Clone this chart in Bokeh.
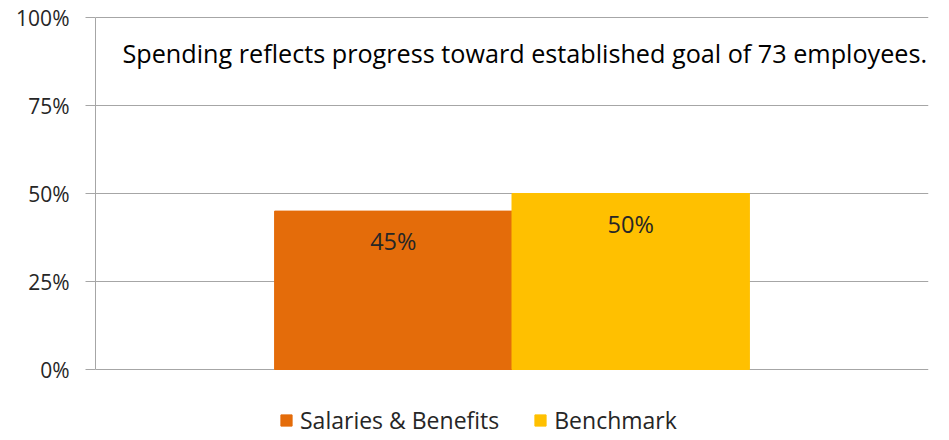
from bokeh.plotting import figure
from bokeh.models import (ColumnDataSource, FactorRange, Range1d, FixedTicker,
                          NumeralTickFormatter, LabelSet, Label, Legend, LegendItem)
from bokeh.core.properties import value
from bokeh.transform import dodge
from bokeh.embed import file_html
from bokeh.resources import INLINE

categories = ["Spending"]
series_names = ["Salaries & Benefits", "Benchmark"]
series_values = [0.45, 0.50]
series_labels = ["45%", "50%"]
series_colors = ["#E46C0A", "#FFC000"]
y_ticks = [0, 0.25, 0.5, 0.75, 1.0]
note = "Spending reflects progress toward established goal of 73 employees."

FONT = "Open Sans"
TXT = "#262626"
GRID = "#A6A6A6"

W, H = 941, 436
TOP, ZERO, PX = 16, 369, 352  # frame top, pixel row of 0%, pixels per 100%
p = figure(width=W, height=H, output_backend="svg", toolbar_location=None,
           x_range=FactorRange(factors=categories),
           y_range=Range1d(-(H - ZERO) / PX, (ZERO - TOP) / PX),
           min_border_left=95, min_border_right=W - 928, min_border_top=TOP,
           min_border_bottom=0)
p.outline_line_color = None
p.xaxis.visible = False
p.xgrid.visible = False
p.ygrid.grid_line_color = GRID
p.ygrid.grid_line_width = 1
p.ygrid.ticker = FixedTicker(ticks=y_ticks)

ax = p.yaxis[0]
ax.ticker = FixedTicker(ticks=y_ticks)
ax.bounds = (0, 1)
ax.formatter = NumeralTickFormatter(format="0%")
ax.axis_line_color = GRID
ax.major_tick_line_color = GRID
ax.major_tick_out = 10
ax.major_tick_in = 0
ax.minor_tick_line_color = None
ax.major_label_standoff = 16
ax.major_label_text_font = FONT
ax.major_label_text_font_size = "21px"
ax.major_label_text_color = TXT

bar_w = 0.285
offsets = [-bar_w / 2, bar_w / 2]
items = []
for name, val, lab, col, off in zip(series_names, series_values, series_labels,
                                     series_colors, offsets):
    src = ColumnDataSource(dict(cat=categories, val=[val], lab=[lab]))
    r = p.vbar(x=dodge("cat", off, range=p.x_range), top="val", width=bar_w,
               source=src, fill_color=col, line_color=col)
    items.append(LegendItem(label=name, renderers=[r]))
    p.add_layout(LabelSet(x=dodge("cat", off, range=p.x_range), y="val", text="lab",
                          source=src, y_offset=-30, text_align="center",
                          text_baseline="middle", text_font=value(FONT),
                          text_font_size=value("23.5px"), text_color=TXT))

p.add_layout(Label(x=27, y=H - 52, x_units="screen", y_units="screen", text=note,
                   text_font=FONT, text_font_size="25.2px", text_color="#000000",
                   text_baseline="alphabetic"))

legend = Legend(items=items, orientation="horizontal", location=(184, 0),
                glyph_width=14, glyph_height=14, label_standoff=7, spacing=34,
                padding=0, margin=0, border_line_color=None,
                background_fill_alpha=0, label_text_font=FONT,
                label_text_font_size="23px", label_text_color=TXT)
p.add_layout(legend, "center")

open("out.html", "w").write(file_html(p, INLINE))
